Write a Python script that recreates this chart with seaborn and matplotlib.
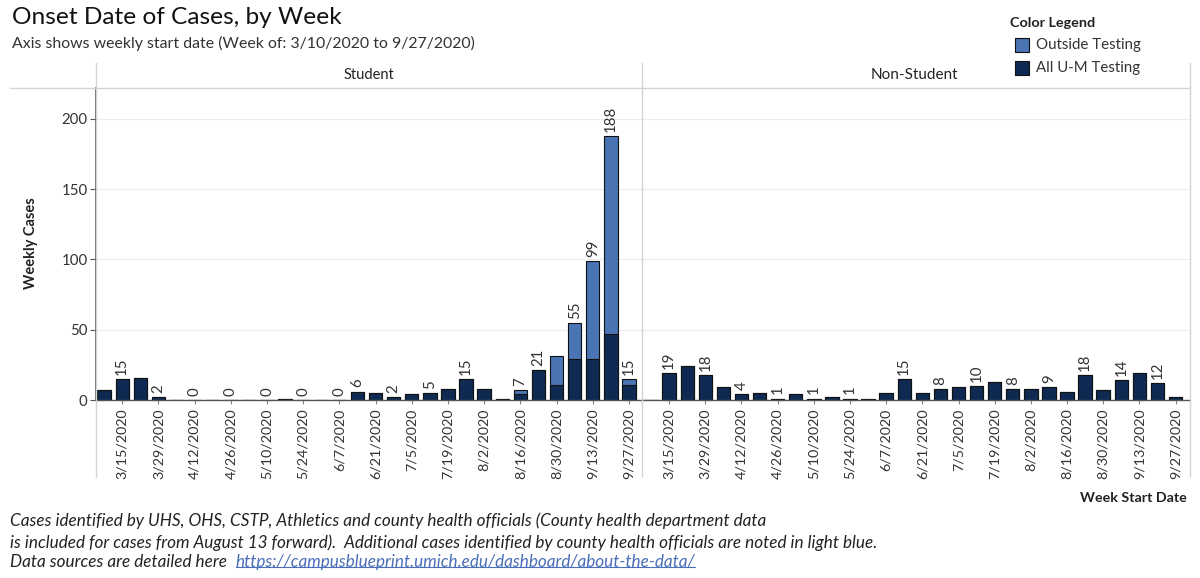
import matplotlib
matplotlib.use("Agg")
import matplotlib.pyplot as plt
import seaborn as sns
import pandas as pd
from matplotlib.lines import Line2D
from matplotlib.patches import Rectangle
from matplotlib.transforms import IdentityTransform

weeks = ["3/8/2020", "3/15/2020", "3/22/2020", "3/29/2020", "4/5/2020", "4/12/2020",
         "4/19/2020", "4/26/2020", "5/3/2020", "5/10/2020", "5/17/2020", "5/24/2020",
         "5/31/2020", "6/7/2020", "6/14/2020", "6/21/2020", "6/28/2020", "7/5/2020",
         "7/12/2020", "7/19/2020", "7/26/2020", "8/2/2020", "8/9/2020", "8/16/2020",
         "8/23/2020", "8/30/2020", "9/6/2020", "9/13/2020", "9/20/2020", "9/27/2020"]

# All U-M Testing / Outside Testing, per week
student_um = [7, 15, 16, 2, 0, 0, 0, 0, 0, 0, 1, 0, 0, 0, 6, 5, 2, 4, 5, 8,
              15, 8, 1, 4, 21, 11, 29, 29, 47, 11]
student_out = [0, 0, 0, 0, 0, 0, 0, 0, 0, 0, 0, 0, 0, 0, 0, 0, 0, 0, 0, 0,
               0, 0, 0, 3, 0, 20, 26, 70, 141, 4]
nonstudent_um = [0, 19, 24, 18, 9, 4, 5, 1, 4, 1, 2, 1, 1, 5, 15, 5, 8, 9, 10, 13,
                 8, 8, 9, 6, 18, 7, 14, 19, 12, 2]
nonstudent_out = [0] * 30

# which bars carry a value label (tableau drops the ones that would collide)
student_labels = [1, 3, 5, 7, 9, 11, 13, 14, 16, 18, 20, 23, 24, 26, 27, 28, 29]
nonstudent_labels = [1, 3, 5, 7, 9, 11, 14, 16, 18, 20, 22, 24, 26, 28]

LIGHT = "#4a74b4"
DARK = "#0f2a52"
EDGE = "#111111"
GRID = "#ececec"
SEP = "#d4d4d4"
LINK = "#4a6fb8"

sns.set_theme(style="white")
plt.rcParams['font.family'] = ['Lato', 'DejaVu Sans']

W, H = 1200, 578
fig = plt.figure(figsize=(12, 5.78), dpi=100)


def fx(px):
    return px / W


def fy(py):
    return 1 - py / H


ax_s = fig.add_axes([fx(96), fy(400), fx(642 - 96), (400 - 88) / H])
ax_n = fig.add_axes([fx(642), fy(400), fx(1190 - 642), (400 - 88) / H])

panels = [
    (ax_s, student_um, student_out, student_labels, (-0.45, 29.72)),
    (ax_n, nonstudent_um, nonstudent_out, nonstudent_labels, (-0.5, 29.8)),
]

for ax, um, out, labels, xlim in panels:
    total = [a + b for a, b in zip(um, out)]
    df = pd.DataFrame({"week": weeks, "um": um, "total": total})
    sns.barplot(data=df, x="week", y="total", order=weeks, color=LIGHT, saturation=1,
                width=0.74, edgecolor=EDGE, linewidth=0.8, errorbar=None, ax=ax)
    sns.barplot(data=df, x="week", y="um", order=weeks, color=DARK, saturation=1,
                width=0.74, edgecolor=EDGE, linewidth=0.8, errorbar=None, ax=ax)
    for i in labels:
        ax.annotate(str(total[i]), (i, total[i]), xytext=(0, 3), textcoords="offset points",
                    rotation=90, ha="center", va="bottom", fontsize=10.8, color="#333333")
    ax.set_xlim(*xlim)
    ax.set_ylim(0, 222)
    ax.set_xlabel("")
    ax.set_ylabel("")
    ax.set_xticks(range(1, 30, 2))
    ax.set_xticklabels(weeks[1::2], rotation=90, fontsize=10.3, color="#333333")
    ax.tick_params(axis="x", length=3, width=0.8, color="#888888", pad=3, bottom=True)
    ax.set_yticks([0, 50, 100, 150, 200])
    ax.yaxis.grid(True, color=GRID, lw=0.8)
    ax.set_axisbelow(True)
    for sp in ["top", "right", "left"]:
        ax.spines[sp].set_visible(False)
    ax.spines["bottom"].set_color("#555555")
    ax.spines["bottom"].set_linewidth(1)
    ax.patch.set_alpha(0)

ax_s.spines["left"].set_visible(True)
ax_s.spines["left"].set_color("#555555")
ax_s.tick_params(axis="y", length=4, width=0.8, color="#555555", labelsize=10.8,
                 labelcolor="#333333", left=True, pad=2)
ax_n.tick_params(axis="y", length=0, labelleft=False)

# panel frame lines
fig.add_artist(Line2D([fx(10), fx(1190)], [fy(88), fy(88)], color=SEP, lw=1))
for xp in [96, 642, 1190]:
    fig.add_artist(Line2D([fx(xp), fx(xp)], [fy(63), fy(477)], color=SEP, lw=1))

fig.text(fx(369), fy(75), "Student", ha="center", va="center", fontsize=10.5, color="#222222")
fig.text(fx(914), fy(75), "Non-Student", ha="center", va="center", fontsize=11, color="#222222")

fig.text(fx(12), fy(18), "Onset Date of Cases, by Week", ha="left", va="center",
         fontsize=17.6, color="#111111")
fig.text(fx(12), fy(43), "Axis shows weekly start date (Week of: 3/10/2020 to 9/27/2020)",
         ha="left", va="center", fontsize=11.4, color="#333333")

fig.text(fx(31), fy(243), "Weekly Cases", rotation=90, ha="center", va="center",
         fontsize=10.5, fontweight="bold", color="#222222")
fig.text(fx(1187), fy(498), "Week Start Date", ha="right", va="center",
         fontsize=10.3, fontweight="bold", color="#222222")

# color legend
fig.text(fx(1010), fy(23), "Color Legend", ha="left", va="center", fontsize=10.4,
         fontweight="bold", color="#222222")
for yp, col, name in [(38, LIGHT, "Outside Testing"), (61, DARK, "All U-M Testing")]:
    fig.add_artist(Rectangle((fx(1015), fy(yp + 14)), fx(14), 14 / H, facecolor=col,
                             edgecolor=EDGE, lw=0.8, transform=fig.transFigure))
    fig.text(fx(1036), fy(yp + 7), name, ha="left", va="center", fontsize=10.8, color="#333333")

# footnote
note = dict(ha="left", va="baseline", fontsize=12.3, style="italic", color="#222222")
fig.text(fx(10), fy(526), "Cases identified by UHS, OHS, CSTP, Athletics and county health "
         "officials (County health department data", **note)
fig.text(fx(10), fy(548), "is included for cases from August 13 forward).  Additional cases "
         "identified by county health officials are noted in light blue.", **note)
t = fig.text(fx(10), fy(567), "Data sources are detailed here  ", **note)
link = ax_s.annotate("https://campusblueprint.umich.edu/dashboard/about-the-data/",
                     xy=(1, 0), xycoords=t, ha="left", va="bottom", fontsize=12.3,
                     style="italic", color=LINK, annotation_clip=False)

fig.canvas.draw()
bb = link.get_window_extent()
uy = bb.y0 + 0.2 * bb.height
fig.add_artist(Line2D([bb.x0 + 1, bb.x1], [uy, uy], color=LINK, lw=0.8,
                      transform=IdentityTransform()))

fig.savefig("out.png", dpi=100)
